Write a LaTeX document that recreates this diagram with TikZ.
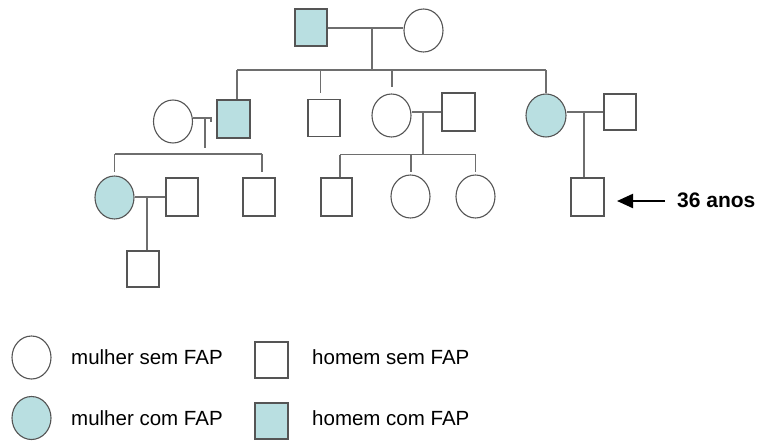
\documentclass[tikz,border=0pt]{standalone}
\usepackage{fontspec}
\setmainfont{Liberation Sans}
\usetikzlibrary{shapes.geometric,arrows.meta}
\definecolor{fap}{HTML}{B9DFE1}
\definecolor{edgec}{HTML}{555555}
\definecolor{wirec}{HTML}{6E6E6E}
\begin{document}
\begin{tikzpicture}[x=1pt,y=-1pt,
 man/.style={rectangle,draw=edgec,line width=1.3pt,fill=white,minimum width=32pt,minimum height=37pt,inner sep=0pt},
 woman/.style={ellipse,draw=edgec,line width=1.1pt,fill=white,minimum width=39pt,minimum height=43pt,inner sep=0pt},
 fapx/.style={fill=fap},
 wire/.style={draw=wirec,line width=1.2pt},
 legtext/.style={anchor=base west,inner sep=0pt,font=\fontsize{20.5}{23}\selectfont},
 agetext/.style={anchor=base west,inner sep=0pt,font=\bfseries\fontsize{21}{24}\selectfont},
 agearrow/.style={draw=black,line width=2.2pt,-{Triangle[length=16pt,width=14pt]}}
]
\useasboundingbox (0,0) rectangle (760,441);

% generation 1
\node[man,fapx] (g1m) at (311,27.5) {};
\node[woman] (g1f) at (423.5,30.5) {};
% generation 2
\node[woman] (g2w) at (173,121.5) {};
\node[man,fapx,minimum width=33pt,minimum height=38pt] (g2a) at (233.5,119) {};
\node[man] (g2b) at (324,118) {};
\node[woman] (g2c) at (391.5,115.5) {};
\node[man,minimum width=33pt,minimum height=38pt] (g2h) at (458.5,112) {};
\node[woman,fapx,minimum width=40pt] (g2d) at (546,115.5) {};
\node[man,minimum height=36pt] (g2s) at (620,112) {};
% generation 3
\node[woman,fapx] (g3a) at (114.5,197.5) {};
\node[man,minimum height=38pt] (g3b) at (182,197) {};
\node[man,minimum height=38pt] (g3c) at (259,197) {};
\node[man,minimum width=31pt,minimum height=38pt] (g3d) at (336.5,197) {};
\node[woman] (g3e) at (410.5,196.5) {};
\node[woman] (g3f) at (475.5,196.5) {};
\node[man,minimum width=33pt,minimum height=38pt] (g3g) at (587.5,197) {};
% generation 4
\node[man,minimum height=36pt] (g4) at (143,269) {};

% helper coordinates
\coordinate (m1) at (372,28);
\coordinate (s1) at (372,70);
\coordinate (m2l) at (205,118);
\coordinate (tick) at (211,118);
\coordinate (tickend) at (211,122);
\coordinate (s2l) at (205,148);
\coordinate (sib3l) at (205,154);
\coordinate (m2c) at (423,112);
\coordinate (s2c) at (423,154.7);
\coordinate (m2r) at (584,112);
\coordinate (m3) at (147,197);

% generation 1 connections
\draw[wire] (g1m.east |- m1) -- (m1 -| g1f.west);
\draw[wire] (m1) -- (s1);
\draw[wire] ([xshift=3.5pt]g2a.north |- s1) -- (g2d.north |- s1);
\draw[wire] ([xshift=3.5pt]g2a.north |- s1) -- ([xshift=3.5pt]g2a.north);
\draw[wire,shorten >=6pt] ([xshift=-3.5pt]g2b.north |- s1) -- ([xshift=-3.5pt]g2b.north);
\draw[wire,shorten >=6pt] ([xshift=0.5pt]g2c.north |- s1) -- ([xshift=0.5pt]g2c.north);
\draw[wire] (g2d.north |- s1) -- (g2d.north);

% left couple of generation 2
\draw[wire] (g2w.east |- m2l) -- (tick) -- (tickend);
\draw[wire] (m2l) -- (s2l);
\draw[wire] (g3a.north |- sib3l) -- ([xshift=3pt]g3c.north |- sib3l);
\draw[wire,shorten >=3pt] (g3a.north |- sib3l) -- (g3a.north);
\draw[wire,shorten >=5pt] ([xshift=3pt]g3c.north |- sib3l) -- ([xshift=3pt]g3c.north);

% middle couple of generation 2
\draw[wire] (g2c.east |- m2c) -- (g2h.west |- m2c);
\draw[wire] (m2c) -- (s2c);
\draw[wire] ([xshift=3.5pt]g3d.north |- s2c) -- (g3f.north |- s2c);
\draw[wire] ([xshift=3.5pt]g3d.north |- s2c) -- ([xshift=3.5pt]g3d.north);
\draw[wire,shorten >=2pt] ([xshift=0.5pt]g3e.north |- s2c) -- ([xshift=0.5pt]g3e.north);
\draw[wire,shorten >=2pt] (g3f.north |- s2c) -- (g3f.north);

% right couple of generation 2
\draw[wire] (g2d.east |- m2r) -- (g2s.west |- m2r);
\draw[wire] (m2r) -- (m2r |- g3g.north);

% couple of generation 3
\draw[wire] (g3a.east |- m3) -- (g3b.west |- m3);
\draw[wire] (m3) -- (m3 |- g4.north);

% age marker
\node[agetext] (age) at (677,207) {36 anos};
\coordinate (atail) at (665,201);
\coordinate (ahead) at (617,201);
\draw[agearrow] (atail) -- (ahead);

% legend
\node[woman] (lf0) at (31.5,357.5) {};
\node[man,minimum width=33pt,minimum height=36pt] (lm0) at (271.5,360) {};
\node[woman,fapx] (lf1) at (31.5,418) {};
\node[man,fapx,minimum width=33pt,minimum height=36pt] (lm1) at (271.5,421) {};
\node[legtext] (lt0) at (71,364) {mulher sem FAP};
\node[legtext] (lt1) at (312,364) {homem sem FAP};
\node[legtext] (lt2) at (71,425) {mulher com FAP};
\node[legtext] (lt3) at (312,425) {homem com FAP};
\end{tikzpicture}
\end{document}
